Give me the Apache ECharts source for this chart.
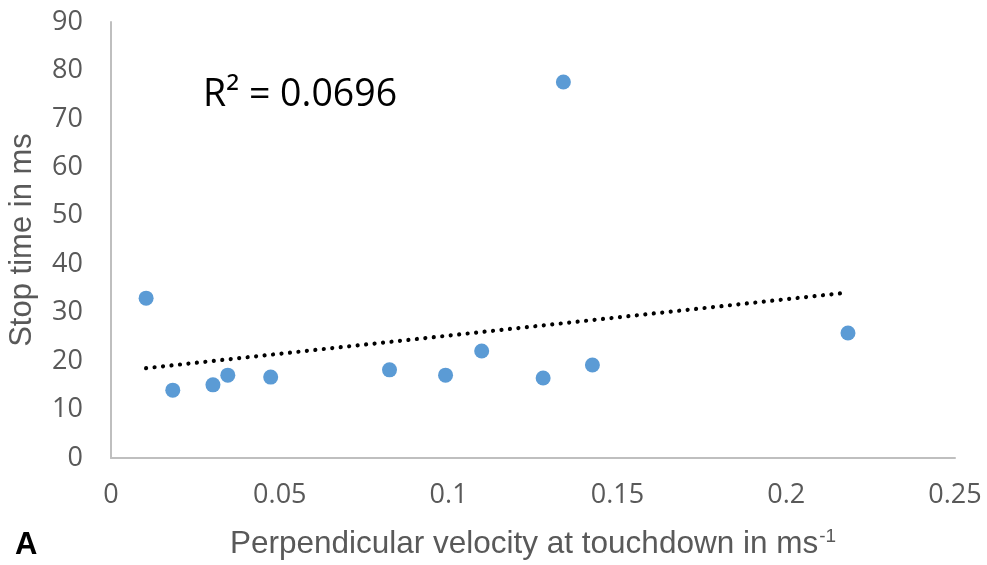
<!DOCTYPE html>
<html>
<head>
<meta charset="utf-8">
<script src="https://cdn.jsdelivr.net/npm/echarts@6/dist/echarts.min.js"></script>
<style>
  html, body { margin: 0; padding: 0; background: #fff; }
  #chart { width: 987px; height: 565px; }
</style>
</head>
<body>
<div id="chart"></div>
<script>
// Perpendicular velocity at touchdown (m/s) and stop time (ms)
const velocity = [0.0104, 0.0183, 0.0302, 0.0346, 0.0473, 0.0825, 0.0991, 0.1098, 0.1280, 0.1340, 0.1426, 0.2183];
const stopTime = [33.0, 14.0, 15.1, 17.1, 16.7, 18.2, 17.1, 22.1, 16.5, 77.6, 19.2, 25.8];
const rSquaredText = 'R² = 0.0696';

// Least-squares linear trend through the points
const n = velocity.length;
const mx = velocity.reduce((a, b) => a + b, 0) / n;
const my = stopTime.reduce((a, b) => a + b, 0) / n;
let sxy = 0, sxx = 0;
for (let i = 0; i < n; i++) {
  sxy += (velocity[i] - mx) * (stopTime[i] - my);
  sxx += (velocity[i] - mx) * (velocity[i] - mx);
}
const slope = sxy / sxx;
const intercept = my - slope * mx;
const xMin = Math.min(...velocity), xMax = Math.max(...velocity);
const trend = [[xMin, intercept + slope * xMin], [xMax, intercept + slope * xMax]];

const points = velocity.map((v, i) => [v, stopTime[i]]);

const chart = echarts.init(document.getElementById('chart'), null, { renderer: 'canvas' });
const tickFont = 'Open Sans, sans-serif';
const titleFont = 'Liberation Sans, Arial, sans-serif';
chart.setOption({
  animation: false,
  backgroundColor: '#ffffff',
  grid: { left: 111, right: 32, top: 22, bottom: 107, containLabel: false },
  xAxis: {
    type: 'value', min: 0, max: 0.25, interval: 0.05,
    axisLine: { show: true, lineStyle: { color: '#bfbfbf', width: 2 } },
    axisTick: { show: false },
    splitLine: { show: false },
    axisLabel: { color: '#595959', fontSize: 27, fontFamily: tickFont, margin: 24,
      formatter: v => String(+v.toFixed(2)) }
  },
  yAxis: {
    type: 'value', min: 0, max: 90, interval: 10,
    axisLine: { show: true, lineStyle: { color: '#bfbfbf', width: 2 } },
    axisTick: { show: false },
    splitLine: { show: false },
    axisLabel: { color: '#595959', fontSize: 27, fontFamily: tickFont, margin: 28 }
  },
  graphic: [
    { type: 'text', x: 203, y: 95,
      style: { text: rSquaredText, fill: '#000', fontSize: 37.5, fontFamily: 'Open Sans, sans-serif',
        verticalAlign: 'middle' } },
    { type: 'text', x: 22, y: 240, rotation: Math.PI / 2,
      style: { text: 'Stop time in ms', fill: '#595959', fontSize: 31, fontFamily: titleFont,
        align: 'center', verticalAlign: 'middle' } },
    { type: 'text', x: 533, y: 544,
      style: { rich: {
          m: { fill: '#595959', fontSize: 31.5, fontFamily: titleFont },
          s: { fill: '#595959', fontSize: 19, fontFamily: titleFont, padding: [0, 0, 14, 1] }
        },
        text: '{m|Perpendicular velocity at touchdown in ms}{s|-1}',
        align: 'center', verticalAlign: 'middle' } },
    { type: 'text', x: 15, y: 545,
      style: { text: 'A', fill: '#000', fontSize: 31, fontWeight: 'bold', fontFamily: titleFont,
        verticalAlign: 'middle' } }
  ],
  series: [
    {
      type: 'line', data: trend, symbol: 'none', silent: true, z: 1,
      lineStyle: { color: '#000', width: 4.2, type: [0.01, 8.5], cap: 'round' }
    },
    {
      type: 'scatter', data: points, symbol: 'circle', symbolSize: 15, z: 2,
      itemStyle: { color: '#5b9bd5', opacity: 1 }
    }
  ]
});
</script>
</body>
</html>
